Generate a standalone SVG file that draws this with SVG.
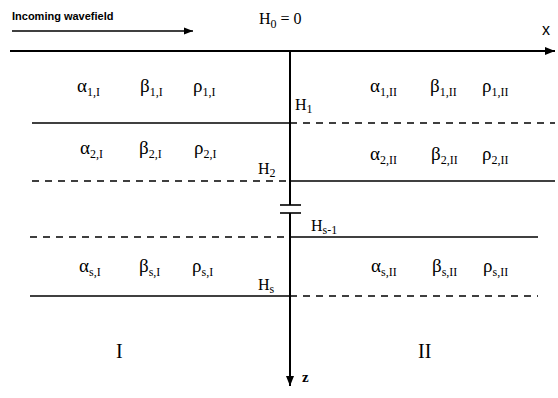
<svg xmlns="http://www.w3.org/2000/svg" width="558" height="398" viewBox="0 0 558 398">
<defs>
<marker id="ah" viewBox="0 0 10 10" refX="10" refY="5" markerWidth="11" markerHeight="10" markerUnits="userSpaceOnUse" orient="auto"><path d="M0,1 L10,5 L0,9 z" fill="#000"/></marker>
<marker id="ahs" viewBox="0 0 10 10" refX="10" refY="5" markerWidth="11" markerHeight="9" markerUnits="userSpaceOnUse" orient="auto"><path d="M0,1 L10,5 L0,9 z" fill="#000"/></marker>
</defs>
<style>
.s{stroke:#000;stroke-width:1.6;fill:none}
.d{stroke:#000;stroke-width:1.4;fill:none;stroke-dasharray:7,6}
.ax{stroke:#000;stroke-width:2;fill:none}
text{font-family:"Liberation Serif","Times New Roman",serif;fill:#000}
.g{font-size:19px}
.sub{font-size:12px}
.h{font-size:16px}
.big{font-size:20px}
</style>
<rect width="558" height="398" fill="#fff"/>
<g id="connectors">
<line class="s" x1="12" y1="31" x2="193" y2="31" marker-end="url(#ahs)"/>
<line class="ax" x1="10" y1="51" x2="555" y2="51" marker-end="url(#ah)"/>
<line class="ax" x1="290" y1="51" x2="290" y2="205"/>
<line class="ax" x1="290" y1="213" x2="290" y2="386" marker-end="url(#ah)"/>
<line class="s" x1="280" y1="205" x2="301" y2="205"/>
<line class="s" x1="280" y1="213" x2="301" y2="213"/>
<line class="s" x1="32" y1="123" x2="290" y2="123"/>
<line class="d" x1="290" y1="123" x2="555" y2="123"/>
<line class="d" x1="32" y1="181" x2="290" y2="181"/>
<line class="s" x1="290" y1="181" x2="555" y2="181"/>
<line class="d" x1="30" y1="237" x2="290" y2="237"/>
<line class="s" x1="290" y1="237" x2="538" y2="237"/>
<line class="s" x1="30" y1="296" x2="290" y2="296"/>
<line class="d" x1="290" y1="296" x2="538" y2="296"/>
</g>
<g id="labels">
<text x="12" y="20" style="font-family:'Liberation Sans',Arial,sans-serif;font-size:11px;font-weight:bold">Incoming wavefield</text>
<text x="259" y="24" class="h">H<tspan class="sub" dy="4">0</tspan><tspan dy="-4"> = 0</tspan></text>
<text x="542" y="35" style="font-family:'Liberation Sans',Arial,sans-serif;font-size:16px">x</text>
<text x="295" y="110" class="h">H<tspan class="sub" dy="3">1</tspan></text>
<text x="258" y="174" class="h">H<tspan class="sub" dy="3">2</tspan></text>
<text x="311" y="231" class="h">H<tspan class="sub" dy="3">s-1</tspan></text>
<text x="258" y="290" class="h">H<tspan class="sub" dy="3">s</tspan></text>
<text x="116" y="358" class="big">I</text>
<text x="418" y="358" class="big">II</text>
<text x="302" y="382" style="font-family:'Liberation Serif',serif;font-size:15px;font-weight:bold">z</text>
</g>
<g id="layer1">
<text x="77" y="92" class="g">α<tspan class="sub" dy="4">1,I</tspan></text>
<text x="140" y="92" class="g">β<tspan class="sub" dy="4">1,I</tspan></text>
<text x="193" y="92" class="g">ρ<tspan class="sub" dy="4">1,I</tspan></text>
<text x="370" y="92" class="g">α<tspan class="sub" dy="4">1,II</tspan></text>
<text x="430" y="92" class="g">β<tspan class="sub" dy="4">1,II</tspan></text>
<text x="482" y="92" class="g">ρ<tspan class="sub" dy="4">1,II</tspan></text>
</g>
<g id="layer2">
<text x="80" y="154" class="g">α<tspan class="sub" dy="4">2,I</tspan></text>
<text x="139" y="154" class="g">β<tspan class="sub" dy="4">2,I</tspan></text>
<text x="194" y="154" class="g">ρ<tspan class="sub" dy="4">2,I</tspan></text>
<text x="370" y="160" class="g">α<tspan class="sub" dy="4">2,II</tspan></text>
<text x="431" y="160" class="g">β<tspan class="sub" dy="4">2,II</tspan></text>
<text x="482" y="160" class="g">ρ<tspan class="sub" dy="4">2,II</tspan></text>
</g>
<g id="layers">
<text x="79" y="272" class="g">α<tspan class="sub" dy="4">s,I</tspan></text>
<text x="139" y="272" class="g">β<tspan class="sub" dy="4">s,I</tspan></text>
<text x="192" y="272" class="g">ρ<tspan class="sub" dy="4">s,I</tspan></text>
<text x="371" y="272" class="g">α<tspan class="sub" dy="4">s,II</tspan></text>
<text x="432" y="272" class="g">β<tspan class="sub" dy="4">s,II</tspan></text>
<text x="483" y="272" class="g">ρ<tspan class="sub" dy="4">s,II</tspan></text>
</g>
</svg>
